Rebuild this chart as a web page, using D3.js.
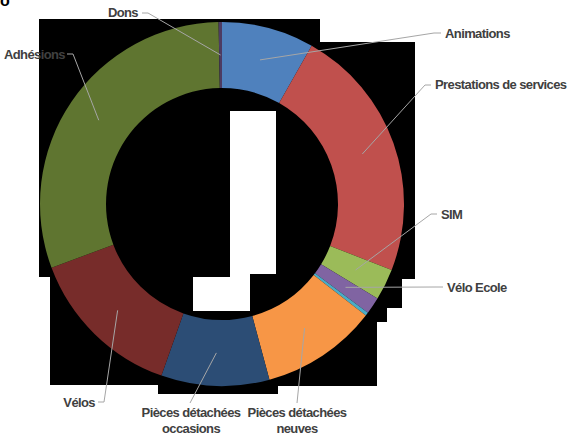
<!DOCTYPE html>
<html>
<head>
<meta charset="utf-8">
<script src="https://cdn.jsdelivr.net/npm/d3@7"></script>
<style>
  body { margin: 0; background: #fff; }
  svg { display: block; }
  .lbl { font-family: "Liberation Sans", Arial, sans-serif; font-weight: bold; font-size: 13px; letter-spacing: -0.6px; fill: #404040; }
</style>
</head>
<body>
<div id="chart"></div>
<script>
// parts of the budget, clockwise from 12 o'clock
var categories = ["Animations", "Prestations de services", "SIM", "Vélo Ecole", "Autres",
                  "Pièces détachées neuves", "Pièces détachées occasions", "Vélos", "Adhésions", "Dons"];
var values = [8.2, 22.7, 2.8, 1.5, 0.3, 10.3, 9.6, 13.9, 30.4, 0.3];
var colors = ["#4f81bd", "#c0504d", "#9bbb59", "#8064a2", "#4bacc6",
              "#f79646", "#2c4d75", "#772c2a", "#5f7530", "#4d3b62"];

// label placement: text lines, anchor, text position, leader start and elbow
var labelPos = {
  "Animations":                 { lines: ["Animations"], anchor: "start", x: 445, y: 38, from: [441, 33], elbow: [434, 33] },
  "Prestations de services":    { lines: ["Prestations de services"], anchor: "start", x: 435, y: 89, from: [431, 85], elbow: [425, 85] },
  "SIM":                        { lines: ["SIM"], anchor: "start", x: 441, y: 219, from: [437, 214], elbow: [431, 214] },
  "Vélo Ecole":                 { lines: ["Vélo Ecole"], anchor: "start", x: 447, y: 292, from: [443, 287], elbow: [436, 287] },
  "Pièces détachées neuves":    { lines: ["Pièces détachées", "neuves"], anchor: "middle", x: 297, y: 417, from: [297, 403], elbow: [297, 403] },
  "Pièces détachées occasions": { lines: ["Pièces détachées", "occasions"], anchor: "middle", x: 191, y: 417, from: [190, 403], elbow: [190, 403] },
  "Vélos":                      { lines: ["Vélos"], anchor: "end", x: 95, y: 407, from: [98, 402], elbow: [104, 402] },
  "Adhésions":                  { lines: ["Adhésions"], anchor: "end", x: 65, y: 59, from: [67, 54], elbow: [73, 54] },
  "Dons":                       { lines: ["Dons"], anchor: "end", x: 138, y: 17, from: [142, 13], elbow: [148, 13] }
};

var width = 570, height = 436,
    cx = 222, cy = 204,
    outerR = 182, innerR = 116;

var svg = d3.select('#chart').append('svg')
    .attr('width', width)
    .attr('height', height);

// clipped title glyph at the very top left
svg.append('text')
    .attr('x', 0).attr('y', 6)
    .style('font-family', 'Liberation Sans, Arial, sans-serif')
    .style('font-weight', 'bold')
    .style('font-size', '16px')
    .attr('fill', '#000')
    .text('o');

// dark backdrop of the plot area, as it shows in the picture
var backdrop = [[39, 19], [320, 19], [320, 42], [415, 42], [415, 279], [402, 279], [402, 308],
                [387, 308], [387, 322], [377, 322], [377, 386], [278, 386], [278, 394],
                [158, 394], [158, 385], [50, 385], [50, 277], [39, 277]];
svg.append('path')
    .attr('d', d3.line()(backdrop) + 'Z')
    .attr('fill', '#000');

var holes = [[230, 111, 46, 163], [230, 273, 20, 5], [193, 277, 57, 34]];
svg.selectAll('rect.hole').data(holes).enter().append('rect')
    .attr('class', 'hole')
    .attr('x', function(d) { return d[0]; })
    .attr('y', function(d) { return d[1]; })
    .attr('width', function(d) { return d[2]; })
    .attr('height', function(d) { return d[3]; })
    .attr('fill', '#fff');

var pie = d3.pie().sort(null).value(function(d) { return d; });
var arc = d3.arc().innerRadius(innerR).outerRadius(outerR);

var slices = pie(values).map(function(p, i) {
  p.name = categories[i];
  p.color = colors[i];
  return p;
});

var g = svg.append('g').attr('transform', 'translate(' + cx + ',' + cy + ')');

g.selectAll('path.slice').data(slices).enter().append('path')
    .attr('class', 'slice')
    .attr('d', arc)
    .attr('fill', function(d) { return d.color; });

// leader lines
var labelled = slices.filter(function(d) { return labelPos[d.name]; });

svg.selectAll('polyline.leader').data(labelled).enter().append('polyline')
    .attr('class', 'leader')
    .attr('fill', 'none')
    .attr('stroke', '#a6a6a6')
    .attr('stroke-width', 1)
    .attr('points', function(d) {
      var lp = labelPos[d.name],
          c = arc.centroid(d);
      return [lp.from, lp.elbow, [c[0] + cx, c[1] + cy]].join(' ');
    });

// labels
var labels = svg.selectAll('text.lbl').data(labelled).enter().append('text')
    .attr('class', 'lbl')
    .attr('text-anchor', function(d) { return labelPos[d.name].anchor; })
    .attr('x', function(d) { return labelPos[d.name].x; })
    .attr('y', function(d) { return labelPos[d.name].y; });

labels.each(function(d) {
  var lp = labelPos[d.name];
  d3.select(this).selectAll('tspan').data(lp.lines).enter().append('tspan')
      .attr('x', lp.x)
      .attr('dy', function(t, i) { return i === 0 ? 0 : 16; })
      .text(function(t) { return t; });
});
</script>
</body>
</html>
